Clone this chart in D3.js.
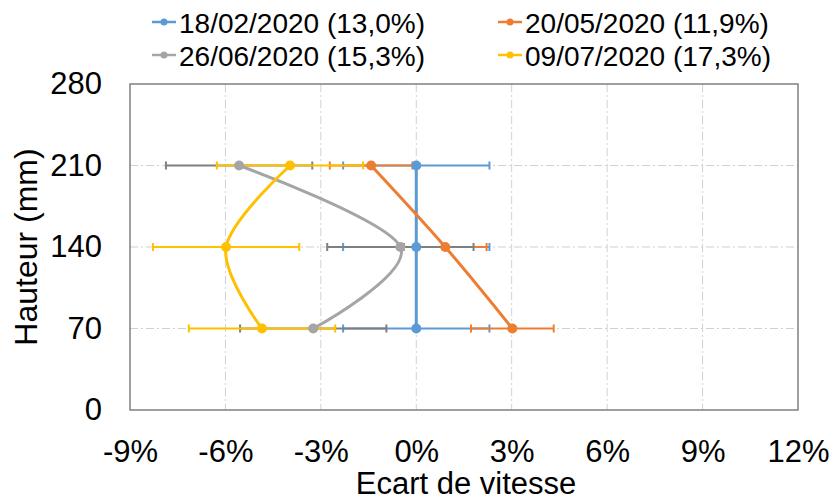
<!DOCTYPE html>
<html><head><meta charset="utf-8">
<script src="https://cdn.jsdelivr.net/npm/d3@7"></script>
<style>body{margin:0;background:#fff}svg{display:block;font-family:Arial,"Liberation Sans",sans-serif}</style>
</head><body><svg id="c" width="832" height="501"></svg>
<script>
const heights = [70, 140, 210];
const seriesNames = ["18/02/2020 (13,0%)", "20/05/2020 (11,9%)", "26/06/2020 (15,3%)", "09/07/2020 (17,3%)"];
const blueVals = [0, 0, 0];
const orangeVals = [3.02, 0.91, -1.42];
const grayVals = [-3.24, -0.5, -5.57];
const yellowVals = [-4.85, -5.98, -3.97];
const blueErr = [2.3, 2.3, 2.3];
const orangeErr = [1.3, 1.3, 1.3];
const grayErr = [2.3, 2.3, 2.3];
const yellowErr = [2.3, 2.3, 2.3];
const xTicks = [-9, -6, -3, 0, 3, 6, 9, 12];
const yTicks = [0, 70, 140, 210, 280];
const colors = ["#5b9bd5", "#ed7d31", "#a5a5a5", "#ffc000"];
const errColors = ["#5b9bd5", "#ed7d31", "#7f7f7f", "#ffc000"];

const series = [blueVals, orangeVals, grayVals, yellowVals].map((v, i) => ({
  name: seriesNames[i], color: colors[i], ecolor: errColors[i],
  pts: heights.map((h, j) => ({h, v: v[j], e: [blueErr, orangeErr, grayErr, yellowErr][i][j]}))
}));

const svg = d3.select("#c");
const L = 130, R = 798, T = 84, B = 410;
const x = d3.scaleLinear().domain([-9, 12]).range([L, R]);
const y = d3.scaleLinear().domain([0, 280]).range([B, T]);

// grid
const g = svg.append("g");
g.selectAll(".gx").data(xTicks.slice(1, -1)).join("line")
  .attr("x1", d => x(d)).attr("x2", d => x(d)).attr("y1", T).attr("y2", B)
  .attr("stroke", "#d0d0d0").attr("stroke-width", 1).attr("stroke-dasharray", "8,3,2,3");
g.selectAll(".gy").data(yTicks.slice(1, -1)).join("line")
  .attr("y1", d => y(d)).attr("y2", d => y(d)).attr("x1", L).attr("x2", R)
  .attr("stroke", "#d0d0d0").attr("stroke-width", 1).attr("stroke-dasharray", "8,3,2,3");

// axes
const xAxis = svg.append("g").attr("transform", `translate(0,${B})`)
  .call(d3.axisBottom(x).tickValues(xTicks).tickFormat(d => d + "%").tickSize(0).tickPadding(30));
const yAxis = svg.append("g").attr("transform", `translate(${L},0)`)
  .call(d3.axisLeft(y).tickValues(yTicks).tickSize(0).tickPadding(28));
[xAxis, yAxis].forEach(a => {
  a.select(".domain").remove();
  a.selectAll("text").attr("font-size", 31).attr("fill", "#000").attr("font-family", "Arial, 'Liberation Sans', sans-serif");
});

// frame
svg.append("rect").attr("x", L).attr("y", T).attr("width", R - L).attr("height", B - T)
  .attr("fill", "none").attr("stroke", "#808080").attr("stroke-width", 1.5);

// error bars
const cap = 4;
series.forEach(s => {
  const eg = svg.append("g").attr("stroke", s.ecolor).attr("stroke-width", 2);
  s.pts.forEach(p => {
    eg.append("line").attr("x1", x(p.v - p.e)).attr("x2", x(p.v + p.e)).attr("y1", y(p.h)).attr("y2", y(p.h));
    [p.v - p.e, p.v + p.e].forEach(xv => eg.append("line").attr("x1", x(xv)).attr("x2", x(xv))
      .attr("y1", y(p.h) - cap).attr("y2", y(p.h) + cap));
  });
});

// lines
const line = d3.line().x(d => x(d.v)).y(d => y(d.h)).curve(d3.curveCatmullRom.alpha(0));
series.forEach(s => {
  svg.append("path").datum(s.pts).attr("d", line).attr("fill", "none")
    .attr("stroke", s.color).attr("stroke-width", 3).attr("stroke-linecap", "round");
});
series.forEach(s => {
  svg.append("g").selectAll("circle").data(s.pts).join("circle")
    .attr("cx", d => x(d.v)).attr("cy", d => y(d.h)).attr("r", 5).attr("fill", s.color);
});

// axis titles
svg.append("text").attr("x", (L + R) / 2 + 2).attr("y", 494).attr("text-anchor", "middle")
  .attr("font-size", 31).text("Ecart de vitesse");
svg.append("text").attr("transform", `translate(37,${(T + B) / 2}) rotate(-90)`).attr("text-anchor", "middle")
  .attr("font-size", 32).text("Hauteur (mm)");

// legend
const legPos = [[152, 22], [498, 22], [152, 55], [498, 55]];
series.forEach((s, i) => {
  const [lx, ly] = legPos[i];
  const lg = svg.append("g").attr("transform", `translate(${lx},${ly})`);
  lg.append("line").attr("x1", 0).attr("x2", 24).attr("y1", 0).attr("y2", 0).attr("stroke", s.color).attr("stroke-width", 2.5);
  lg.append("circle").attr("cx", 12).attr("cy", 0).attr("r", 3.5).attr("fill", s.color);
  lg.append("text").attr("x", 27).attr("y", 10.5).attr("font-size", 28).text(s.name);
});
</script></body></html>
